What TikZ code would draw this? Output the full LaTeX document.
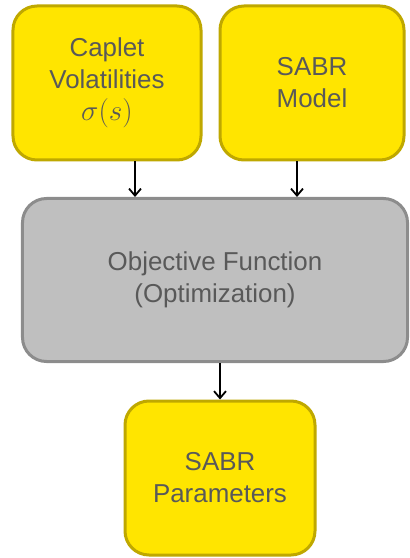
\documentclass[tikz,border=0pt]{standalone}
\usepackage{fontspec}
\setmainfont{Liberation Sans}
\usetikzlibrary{arrows.meta}
\definecolor{yfill}{HTML}{FFE500}
\definecolor{ydraw}{HTML}{BFA800}
\definecolor{gfill}{HTML}{BFBFBF}
\definecolor{gdraw}{HTML}{8C8C8C}
\definecolor{txt}{HTML}{595959}
\tikzset{
  ybox/.style={draw=ydraw, fill=yfill, line width=3bp, rounded corners=24bp, align=center,
    text=txt, font=\fontsize{26}{32}\selectfont, inner sep=0pt},
  gbox/.style={draw=gdraw, fill=gfill, line width=3bp, rounded corners=24bp, align=center,
    text=txt, font=\fontsize{26}{32}\selectfont, inner sep=0pt},
  arr/.style={-{Straight Barb[length=7bp,width=12bp]}, line width=1.8bp, black}
}
\begin{document}
\begin{tikzpicture}[x=1bp,y=-1bp]
\useasboundingbox (0,0) rectangle (409,558);
\node[ybox, minimum width=188bp, minimum height=154bp] (cap) at (107,83) {Caplet\\Volatilities\\\scalebox{1.18}{$\sigma(s)$}};
\node[ybox, minimum width=184bp, minimum height=154bp] (sabr) at (312,83) {SABR\\Model};
\node[gbox, minimum width=385bp, minimum height=163bp] (obj) at (215,280) {Objective Function\\(Optimization)};
\node[ybox, minimum width=190bp, minimum height=154bp] (par) at (220,478) {SABR\\Parameters};
\draw[arr] (cap.south -| 135,0) -- (obj.north -| 135,0);
\draw[arr] (sabr.south -| 297,0) -- (obj.north -| 297,0);
\draw[arr] (obj.south -| 220,0) -- (par.north -| 220,0);
\end{tikzpicture}
\end{document}
